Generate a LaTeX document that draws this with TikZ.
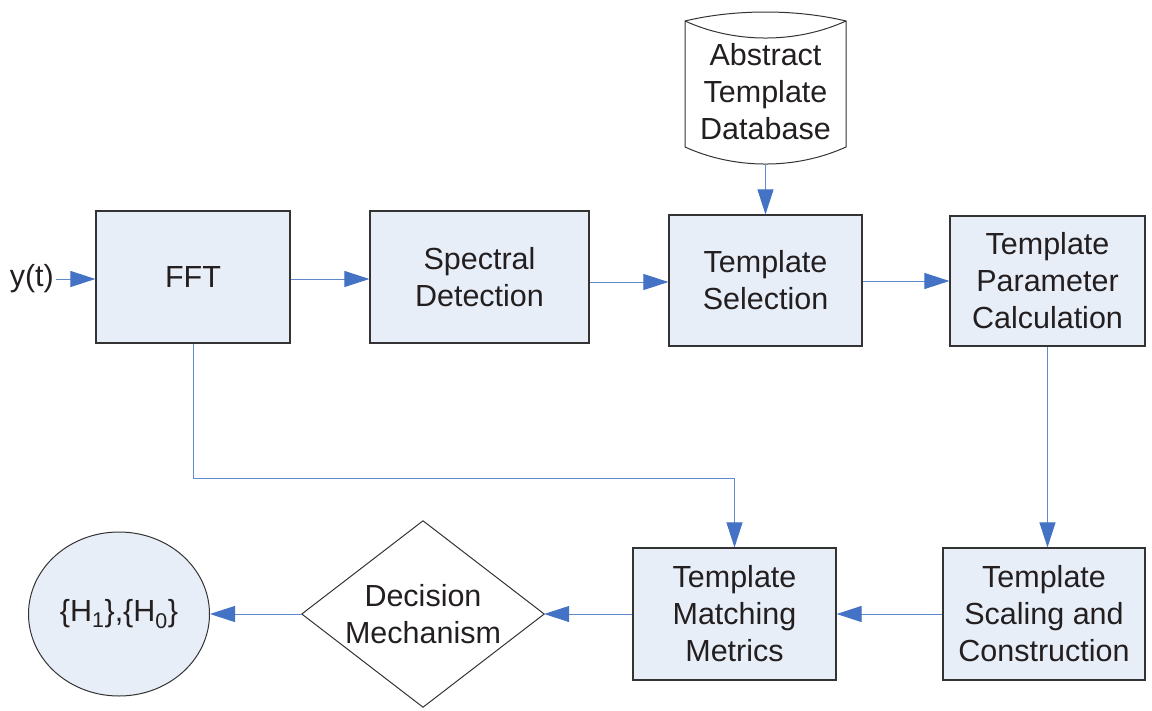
\documentclass[tikz,border=0pt]{standalone}
\usepackage{fontspec}
\setmainfont{Liberation Sans}
\usetikzlibrary{arrows.meta,shapes.geometric,calc}
\definecolor{boxfill}{HTML}{E8EEF7}
\definecolor{border}{HTML}{333333}
\definecolor{linecol}{HTML}{5F8ACB}
\definecolor{arrcol}{HTML}{4472C4}
\definecolor{txt}{HTML}{231F20}
\begin{document}
\begin{tikzpicture}[x=1pt,y=-1pt,
  every node/.style={font=\fontsize{30.5}{37}\selectfont, text=txt, align=center, inner sep=0pt},
  blk/.style={draw=border, fill=boxfill, line width=1.2pt, rectangle},
  conn/.style={draw=linecol, line width=1pt, -{Triangle[length=25pt,width=16pt,color=arrcol]}},
  plain/.style={draw=linecol, line width=1pt}
]
\useasboundingbox (0,0) rectangle (1152,710);

% boxes
\node[blk, minimum width=194pt, minimum height=132pt] (fft) at (193,277) {FFT};
\node[blk, minimum width=219pt, minimum height=132pt] (spec) at (479.5,277) {Spectral\\Detection};
\node[blk, minimum width=193pt, minimum height=131pt] (sel) at (765.5,280.5) {Template\\Selection};
\node[blk, minimum width=195pt, minimum height=130pt] (par) at (1047.5,281) {Template\\Parameter\\Calculation};
\node[blk, minimum width=202pt, minimum height=132pt] (scal) at (1044,614) {Template\\Scaling and\\Construction};
\node[blk, minimum width=203pt, minimum height=132pt] (mat) at (734.5,614) {Template\\Matching\\Metrics};

% diamond
\node[minimum width=242pt, minimum height=186pt] (dm) at (423,614) {Decision\\Mechanism};
\draw[border, line width=1pt] (dm.north) -- (dm.east) -- (dm.south) -- (dm.west) -- cycle;

% ellipse
\node[ellipse, draw=border, fill=boxfill, line width=1pt, minimum width=181pt, minimum height=164pt] (hyp) at (119,614)
  {\{H\textsubscript{1}\},\{H\textsubscript{0}\}};

% database cylinder
\coordinate (dbtl) at (685,21);
\coordinate (dbtr) at (846,21);
\coordinate (dbbl) at (685,147);
\coordinate (dbbr) at (846,147);
\coordinate (dbbot) at (765.5,164);
\draw[border, line width=1pt, fill=white]
  (dbtl) .. controls (735,9) and (796,9) .. (dbtr)
  -- (dbbr) .. controls (796,169.7) and (735,169.7) .. (dbbl) -- cycle;
\draw[border, line width=1pt] (dbtl) .. controls (735,43.7) and (796,43.7) .. (dbtr);
\node (db) at (765.5,92) {Abstract\\Template\\Database};

% input
\node[anchor=east, inner sep=2pt] (yt) at (56,279) {y(t)};

% connectors
\draw[conn] (yt.east) -- (yt.east -| fft.west);
\draw[conn] (fft.east |- 0,279) -- (spec.west |- 0,279);
\draw[conn] (spec.east |- 0,282) -- (sel.west |- 0,282);
\draw[conn] (sel.east |- 0,281) -- (par.west |- 0,281);
\draw[conn] (dbbot) -- (sel.north);
\draw[conn] (par.south) -- (par.south |- scal.north);
\draw[conn] (scal.west |- 0,614) -- (mat.east |- 0,614);
\draw[conn] (mat.west |- 0,614) -- (dm.east);
\draw[conn] (dm.west) -- (hyp.east);
\draw[conn] (fft.south) -- (fft.south |- 0,478) -- (mat.north |- 0,478) -- (mat.north);
\end{tikzpicture}
\end{document}
